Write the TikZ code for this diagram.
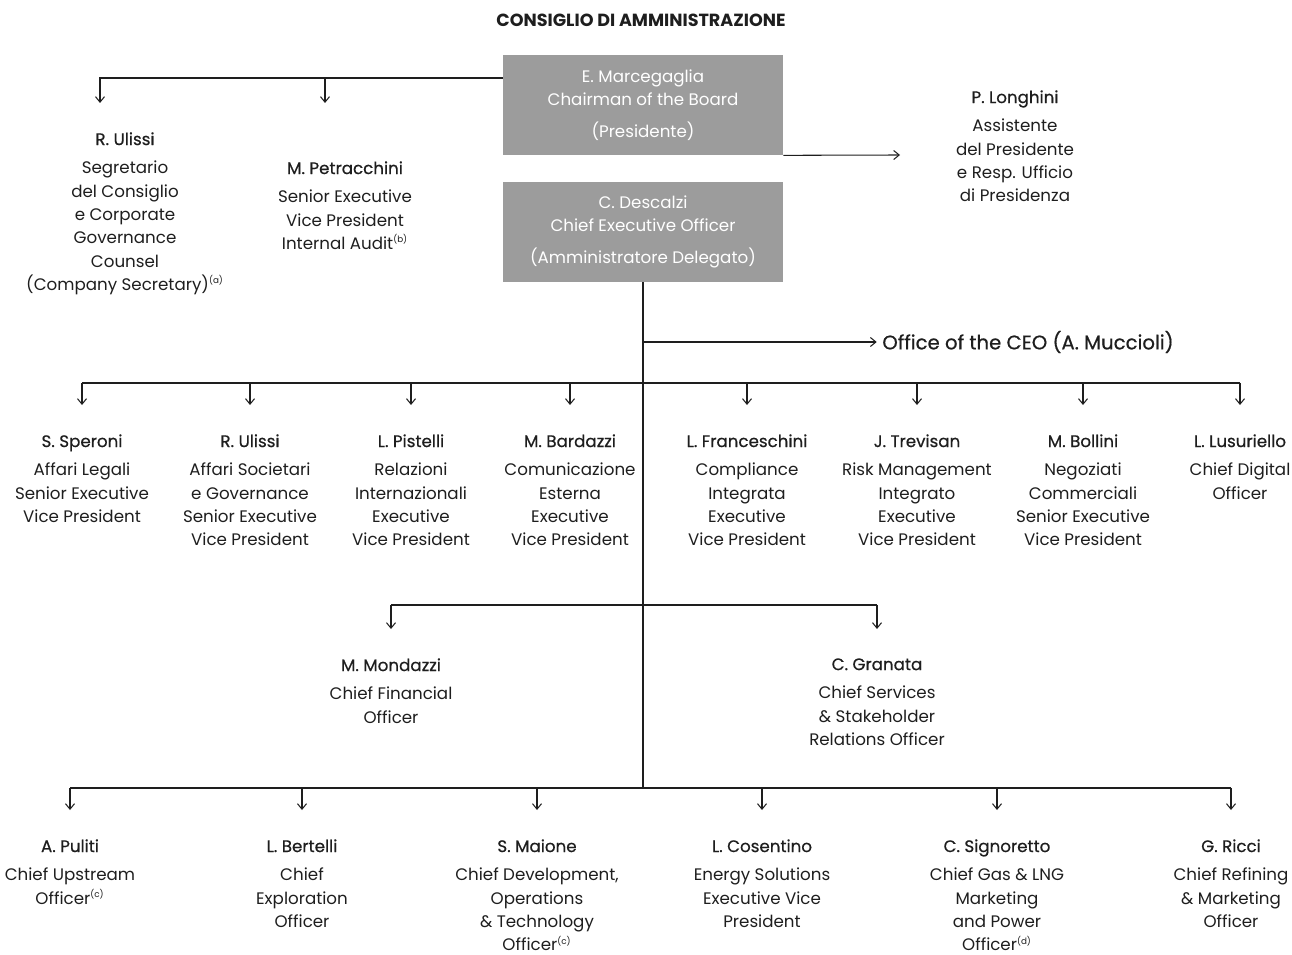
\documentclass[tikz,border=0pt]{standalone}
\usepackage{fontspec}
\setmainfont{Poppins}
\newfontfamily\namefont[FakeBold=0.6]{Poppins}
\usetikzlibrary{arrows.meta,positioning,calc}
\definecolor{boxgray}{HTML}{9C9C9C}
\definecolor{ink}{HTML}{1E1E1E}
\newcommand{\nt}[1]{{\namefont #1}}
\newcommand{\fn}[1]{\textsuperscript{\tiny(#1)}}

\begin{document}
\begin{tikzpicture}[x=0.02cm, y=-0.02cm,
  every node/.style={font=\fontsize{9.5}{13.3}\selectfont, text=ink},
  wire/.style={draw=ink, line width=0.6pt},
  tip/.style={-{Straight Barb[length=1.1mm,width=1.8mm]}},
  link/.style={wire, tip, shorten >=0.58cm},
  staff/.style={align=center, anchor=north, inner sep=0pt},
  board/.style={fill=boxgray, text=white, align=center, minimum width=5.6cm, minimum height=2cm, inner sep=0pt}]

\useasboundingbox (0,0) rectangle (1292,955);

% top: board of directors
\node[font=\bfseries\fontsize{10}{12}\selectfont] (title) at (641,20) {CONSIGLIO DI AMMINISTRAZIONE};
\node[board] (chair) at (643,105) {E. Marcegaglia\\Chairman of the Board\\[5pt](Presidente)};
\node[board] (ceo) at (643,232) {C. Descalzi\\Chief Executive Officer\\[5pt](Amministratore Delegato)};

\coordinate (topbar) at (0,78);
\coordinate (midbar) at (0,383);
\coordinate (cfobar) at (0,605);
\coordinate (botbar) at (0,788);

\node[staff] (uli) at (125,132) {\nt{R. Ulissi}\\[3pt]Segretario\\del Consiglio\\e Corporate\\Governance\\Counsel\\(Company Secretary)\fn{a}};
\node[staff] (pet) at (345,161) {\nt{M. Petracchini}\\[3pt]Senior Executive\\Vice President\\Internal Audit\fn{b}};
\node[staff] (lon) at (1015,90) {\nt{P. Longhini}\\[3pt]Assistente\\del Presidente\\e Resp. Ufficio\\di Presidenza};
\coordinate (uli-in) at (100,103);
\coordinate (pet-in) at (325,103);
\coordinate (lon-in) at (900,155);

\draw[wire, tip] (chair.west |- topbar) -| (uli-in);
\draw[wire, tip] (pet-in |- topbar) -- (pet-in);
\draw[wire, tip] (chair.south east) -- (lon-in);

% CEO line
\node[anchor=west, inner sep=0pt, font=\namefont\fontsize{11.2}{14}\selectfont] (office) at (882,342) {Office of the CEO (A. Muccioli)};
\draw[wire, tip, shorten >=3pt] (ceo.south |- office.west) -- (office.west);
\draw[wire] (ceo.south) -- (ceo.south |- botbar);

% first line of reports
\foreach \nm/\x/\txt in {
  spe/82/{\nt{S. Speroni}\\[3pt]Affari Legali\\Senior Executive\\Vice President},
  uls/250/{\nt{R. Ulissi}\\[3pt]Affari Societari\\e Governance\\Senior Executive\\Vice President},
  pis/411/{\nt{L. Pistelli}\\[3pt]Relazioni\\Internazionali\\Executive\\Vice President},
  bar/570/{\nt{M. Bardazzi}\\[3pt]Comunicazione\\Esterna\\Executive\\Vice President},
  fra/747/{\nt{L. Franceschini}\\[3pt]Compliance\\Integrata\\Executive\\Vice President},
  tre/917/{\nt{J. Trevisan}\\[3pt]Risk Management\\Integrato\\Executive\\Vice President},
  bol/1083/{\nt{M. Bollini}\\[3pt]Negoziati\\Commerciali\\Senior Executive\\Vice President},
  lus/1240/{\nt{L. Lusuriello}\\[3pt]Chief Digital\\Officer}}
{
  \node[staff] (\nm) at (\x,434) {\txt};
  \draw[link] (\nm.north |- midbar) -- (\nm.north);
}
\draw[wire] (spe.north |- midbar) -- (lus.north |- midbar);

% CFO and CSO
\node[staff] (mon) at (391,658) {\nt{M. Mondazzi}\\[3pt]Chief Financial\\Officer};
\node[staff] (gra) at (877,658) {\nt{C. Granata}\\[3pt]Chief Services\\\& Stakeholder\\Relations Officer};
\draw[wire] (mon.north |- cfobar) -- (gra.north |- cfobar);
\draw[link] (mon.north |- cfobar) -- (mon.north);
\draw[link] (gra.north |- cfobar) -- (gra.north);

% business lines
\foreach \nm/\x/\txt in {
  pul/70/{\nt{A. Puliti}\\[3pt]Chief Upstream\\Officer\fn{c}},
  ber/302/{\nt{L. Bertelli}\\[3pt]Chief\\Exploration\\Officer},
  mai/537/{\nt{S. Maione}\\[3pt]Chief Development,\\Operations\\\& Technology\\Officer\fn{c}},
  cos/762/{\nt{L. Cosentino}\\[3pt]Energy Solutions\\Executive Vice\\President},
  sig/997/{\nt{C. Signoretto}\\[3pt]Chief Gas \& LNG\\Marketing\\and Power\\Officer\fn{d}},
  ric/1231/{\nt{G. Ricci}\\[3pt]Chief Refining\\\& Marketing\\Officer}}
{
  \node[staff] (\nm) at (\x,839) {\txt};
  \draw[link] (\nm.north |- botbar) -- (\nm.north);
}
\draw[wire] (pul.north |- botbar) -- (ric.north |- botbar);
\end{tikzpicture}
\end{document}
